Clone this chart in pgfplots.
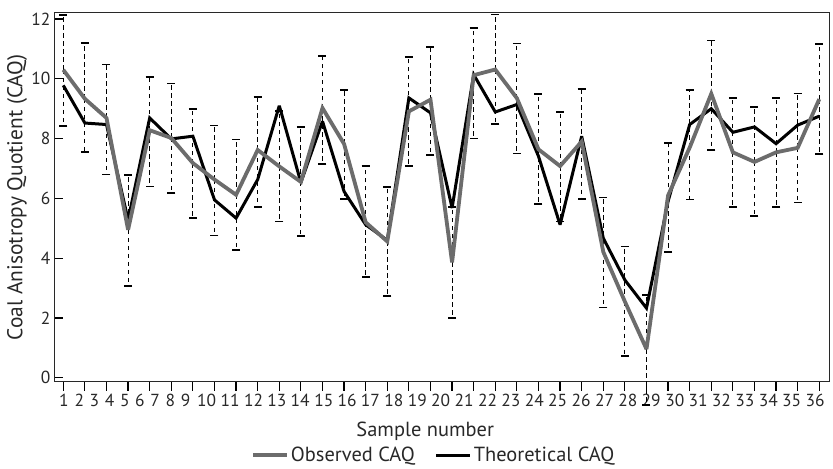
\documentclass[border=0pt]{standalone}
\usepackage{pgfplots}
\usepackage{pgfplotstable}
\pgfplotsset{compat=1.18}
\usepackage{fontspec}
\setmainfont{PT Sans}
\definecolor{obsgray}{RGB}{108,108,108}
\definecolor{axgray}{RGB}{40,40,40}

\pgfplotstableread{
x obs theo ep em
1 10.30 9.78 1.83 1.87
2 9.33 8.52 1.86 1.79
3 8.69 8.47 1.79 1.89
4 4.95 5.28 1.82 1.87
5 8.28 8.69 1.77 1.88
6 8.02 7.99 1.82 1.84
7 7.18 8.08 1.81 1.84
8 6.63 5.95 1.81 1.87
9 6.12 5.34 1.85 1.84
10 7.62 6.63 1.76 1.92
11 7.07 9.10 1.84 1.84
12 6.55 6.53 1.83 1.82
13 9.02 8.58 1.74 1.87
14 7.82 6.23 1.80 1.84
15 5.20 5.12 1.87 1.82
16 4.56 4.60 1.81 1.82
17 8.91 9.36 1.83 1.84
18 9.30 8.86 1.76 1.86
19 3.86 5.68 1.84 1.85
20 10.12 10.14 1.57 2.12
21 10.31 8.89 1.84 1.81
22 9.35 9.14 1.83 1.85
23 7.64 7.41 1.86 1.82
24 7.08 5.12 1.81 1.85
25 7.90 8.08 1.76 1.91
26 4.21 4.67 1.82 1.86
27 2.55 3.27 1.84 1.81
28 0.96 2.33 1.81 1.87
29 6.10 5.90 1.75 1.88
30 7.70 8.47 1.92 1.74
31 9.50 9.00 1.78 1.87
32 7.54 8.21 1.82 1.84
33 7.22 8.39 1.84 1.82
34 7.54 7.83 1.82 1.84
35 7.69 8.45 1.82 1.83
36 9.32 8.75 1.85 1.83
}\data

\begin{document}
\begin{tikzpicture}
\begin{axis}[
  scale only axis,
  width=775bp, height=368.7bp,
  xmin=0.57, xmax=36.45, ymin=-0.13, ymax=12.2,
  clip=false,
  axis line style={axgray, line width=1bp},
  tick style={black, line width=1.2bp},
  major tick length=9bp,
  xtick align=outside, ytick align=inside,
  xtick pos=bottom, ytick pos=left,
  xtick={1,...,36}, xticklabels={},
  extra x ticks={1.03,1.74,2.44,3.14,3.85,4.55,5.25,5.96,6.66,7.64,8.72,9.81,10.89,11.97,13.06,14.14,15.22,16.31,17.39,18.47,19.56,20.64,21.72,22.81,23.89,24.97,26.06,27.14,28.22,29.31,30.39,31.47,32.56,33.64,34.72,35.81},
  extra x tick labels={1,2,3,4,5,6,7,8,9,10,11,12,13,14,15,16,17,18,19,20,21,22,23,24,25,26,27,28,29,30,31,32,33,34,35,36},
  extra x tick style={tick style={draw=none}},
  ytick={0,2,...,12},
  /pgf/number format/assume math mode=true,
  tick label style={font=\fontsize{17.5}{20}\selectfont, text=axgray},
  label style={font=\fontsize{20.5}{24}\selectfont, text=axgray},
  xlabel={Sample number},
  ylabel={Coal Anisotropy Quotient (CAQ)},
  xlabel style={at={(axis description cs:0.479,-0.1356)}, anchor=center},
  ylabel style={at={(axis description cs:-0.0477,0.5)}, anchor=center, font=\fontsize{21.5}{24}\selectfont},
  legend columns=2,
  legend style={draw=none, fill=none, at={(axis description cs:0.49,-0.199)}, anchor=center,
    font=\fontsize{20.5}{24}\selectfont, text=axgray,
    /tikz/every even column/.append style={column sep=18bp}},
  legend image code/.code={\draw[#1] (0bp,0bp) -- (34bp,0bp);},
]
\coordinate (sw) at (rel axis cs:0,0);
\coordinate (ne) at (rel axis cs:1,1);
\addlegendimage{obsgray, line width=3.8bp}
\addlegendentry{Observed CAQ}
\addlegendimage{black, line width=3bp}
\addlegendentry{Theoretical CAQ}
\addplot[draw=none, forget plot, mark=none,
  error bars/.cd, y dir=both, y explicit,
  error bar style={black, line width=0.9bp, dash pattern=on 4.5bp off 3.5bp},
  error mark options={rotate=90, mark size=4bp, line width=1.8bp, black, solid}]
  table[x=x, y=obs, y error plus=ep, y error minus=em]{\data};
\addplot[black, line width=3bp, mark=none, forget plot, line join=miter, miter limit=3] table[x=x, y=theo]{\data};
\addplot[obsgray, line width=3.8bp, mark=none, forget plot, line join=miter, miter limit=3] table[x=x, y=obs]{\data};
\end{axis}
\pgfresetboundingbox
\path ([xshift=-54bp,yshift=-87.3bp]sw) rectangle ([xshift=4bp,yshift=13bp]ne);
\end{tikzpicture}
\end{document}
